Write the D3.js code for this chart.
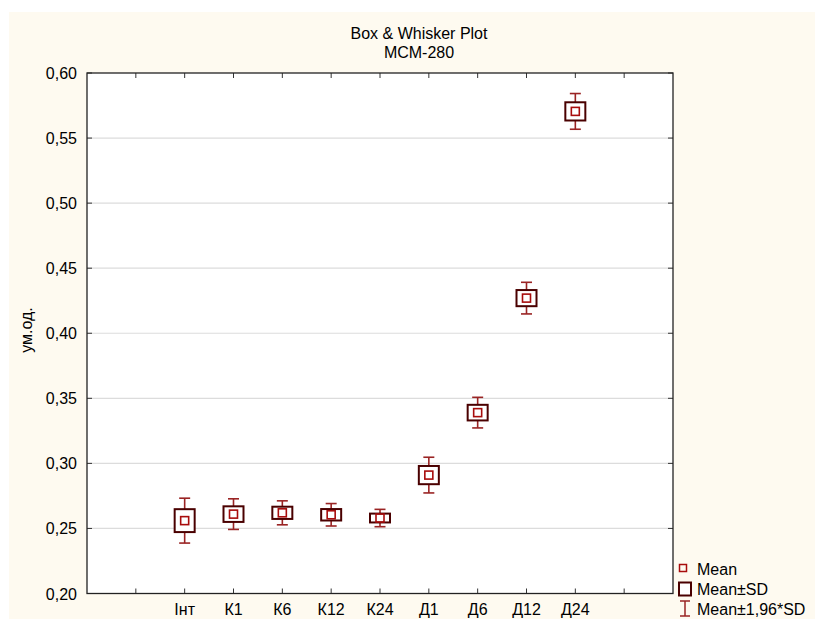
<!DOCTYPE html>
<html>
<head>
<meta charset="utf-8">
<script src="https://cdn.jsdelivr.net/npm/d3@7"></script>
<style>
  body { margin: 0; background: #fff; }
  svg text { font-family: "Liberation Sans", Arial, sans-serif; fill: #000; }
</style>
</head>
<body>
<div id="chart"></div>
<script>
// data
var categories = ["Інт", "К1", "К6", "К12", "К24", "Д1", "Д6", "Д12", "Д24"];
var means = [0.256, 0.261, 0.262, 0.2605, 0.258, 0.291, 0.339, 0.427, 0.5705];
var sds = [0.0088, 0.006, 0.0047, 0.0044, 0.0034, 0.007, 0.006, 0.0062, 0.007];
var yTicks = [0.20, 0.25, 0.30, 0.35, 0.40, 0.45, 0.50, 0.55, 0.60];
var legendItems = ["Mean", "Mean±SD", "Mean±1,96*SD"];

var W = 815, H = 619;
var m = {left: 87, right: 673, top: 73, bottom: 593.5}; // plot frame

var svg = d3.select("#chart").append("svg")
    .attr("width", W)
    .attr("height", H);

svg.append("rect") // cream panel
    .attr("x", 9).attr("y", 12)
    .attr("width", W - 9).attr("height", H - 12)
    .attr("fill", "#fefaf0");

svg.append("rect")
    .attr("x", m.left).attr("y", m.top)
    .attr("width", m.right - m.left).attr("height", m.bottom - m.top)
    .attr("fill", "#fff");

// x: 12 slots, categories sit on slot 2..10, empty ticks on 1 and 11
var x = d3.scaleLinear().domain([0, 12]).range([m.left, m.right]);
var y = d3.scaleLinear().domain([0.2, 0.6]).range([m.bottom, m.top]);
var xTicks = d3.range(1, 12);

var fmt = function (v) { return d3.format(".2f")(v).replace(".", ","); };

// gridlines
svg.append("g").selectAll("line")
    .data(yTicks.slice(1, -1))
  .enter().append("line")
    .attr("x1", m.left).attr("x2", m.right)
    .attr("y1", function (d) { return y(d); })
    .attr("y2", function (d) { return y(d); })
    .attr("stroke", "#dcdcdc")
    .attr("stroke-width", 1.2);

// inward ticks, four sides
var tk = svg.append("g").attr("stroke", "#333").attr("stroke-width", 1);
xTicks.forEach(function (t) {
  tk.append("line").attr("x1", x(t)).attr("x2", x(t)).attr("y1", m.bottom).attr("y2", m.bottom - 5);
  tk.append("line").attr("x1", x(t)).attr("x2", x(t)).attr("y1", m.top).attr("y2", m.top + 5);
});
yTicks.forEach(function (t) {
  tk.append("line").attr("x1", m.right).attr("x2", m.right - 5).attr("y1", y(t)).attr("y2", y(t));
  tk.append("line").attr("x1", m.left).attr("x2", m.left + 5).attr("y1", y(t)).attr("y2", y(t));
});

// frame
svg.append("rect")
    .attr("x", m.left).attr("y", m.top)
    .attr("width", m.right - m.left).attr("height", m.bottom - m.top)
    .attr("fill", "none")
    .attr("stroke", "#222")
    .attr("stroke-width", 1.3);

// y tick labels
svg.append("g").selectAll("text")
    .data(yTicks)
  .enter().append("text")
    .attr("x", m.left - 10)
    .attr("y", function (d) { return y(d) + 6; })
    .attr("text-anchor", "end")
    .style("font-size", "16px")
    .text(fmt);

// x labels
svg.append("g").selectAll("text")
    .data(categories)
  .enter().append("text")
    .attr("x", function (d, i) { return x(i + 2); })
    .attr("y", 615)
    .attr("text-anchor", "middle")
    .style("font-size", "16px")
    .text(function (d) { return d; });

// title + axis title
svg.append("text").attr("x", 419).attr("y", 39).attr("text-anchor", "middle")
    .style("font-size", "16px").text("Box & Whisker Plot");
svg.append("text").attr("x", 419).attr("y", 57.5).attr("text-anchor", "middle")
    .style("font-size", "16px").text("MCM-280");
svg.append("text")
    .attr("transform", "translate(32,330) rotate(-90)")
    .attr("text-anchor", "middle")
    .style("font-size", "16px")
    .text("ум.од.");

// marks
var boxW = 20, capW = 11, meanW = 8;
var whiskColor = "#9a2424", boxColor = "#4a0000", meanColor = "#a80c0c";

var g = svg.append("g").selectAll("g")
    .data(categories)
  .enter().append("g")
    .attr("transform", function (d, i) { return "translate(" + x(i + 2) + ",0)"; });

g.each(function (d, i) {
  var s = d3.select(this);
  var mu = means[i], sd = sds[i];
  var wt = y(mu + 1.96 * sd), wb = y(mu - 1.96 * sd);
  var bt = y(mu + sd), bb = y(mu - sd);
  s.append("line").attr("x1", 0).attr("x2", 0).attr("y1", wt).attr("y2", bt)
      .attr("stroke", whiskColor).attr("stroke-width", 1.6);
  s.append("line").attr("x1", 0).attr("x2", 0).attr("y1", bb).attr("y2", wb)
      .attr("stroke", whiskColor).attr("stroke-width", 1.6);
  s.append("line").attr("x1", -capW / 2).attr("x2", capW / 2).attr("y1", wt).attr("y2", wt)
      .attr("stroke", whiskColor).attr("stroke-width", 1.6);
  s.append("line").attr("x1", -capW / 2).attr("x2", capW / 2).attr("y1", wb).attr("y2", wb)
      .attr("stroke", whiskColor).attr("stroke-width", 1.6);
  s.append("rect").attr("x", -boxW / 2).attr("y", bt)
      .attr("width", boxW).attr("height", bb - bt)
      .attr("fill", "#fff").attr("stroke", boxColor).attr("stroke-width", 2);
  s.append("rect").attr("x", -meanW / 2).attr("y", y(mu) - meanW / 2)
      .attr("width", meanW).attr("height", meanW)
      .attr("fill", "none").attr("stroke", meanColor).attr("stroke-width", 1.6);
});

// legend
var lg = svg.append("g");
lg.append("rect").attr("x", 679.5).attr("y", 564.5).attr("width", 7).attr("height", 7)
    .attr("fill", "none").attr("stroke", meanColor).attr("stroke-width", 1.5);
lg.append("rect").attr("x", 679).attr("y", 582.5).attr("width", 12).attr("height", 13)
    .attr("fill", "#fff").attr("stroke", boxColor).attr("stroke-width", 2);
lg.append("line").attr("x1", 685).attr("x2", 685).attr("y1", 601).attr("y2", 616)
    .attr("stroke", whiskColor).attr("stroke-width", 1.5);
lg.append("line").attr("x1", 680).attr("x2", 690).attr("y1", 601).attr("y2", 601)
    .attr("stroke", whiskColor).attr("stroke-width", 1.5);
lg.append("line").attr("x1", 680).attr("x2", 690).attr("y1", 616).attr("y2", 616)
    .attr("stroke", whiskColor).attr("stroke-width", 1.5);
lg.selectAll("text")
    .data(legendItems)
  .enter().append("text")
    .attr("x", 697)
    .attr("y", function (d, i) { return [575, 595, 614.5][i]; })
    .style("font-size", "16px")
    .text(function (d) { return d; });
</script>
</body>
</html>
